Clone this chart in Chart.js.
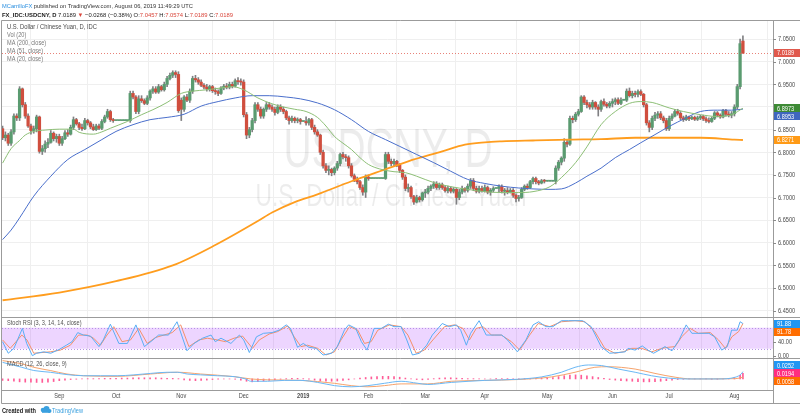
<!DOCTYPE html>
<html>
<head>
<meta charset="utf-8">
<title>USDCNY, D</title>
<script src="https://cdn.jsdelivr.net/npm/chart.js@4.4.1/dist/chart.umd.min.js"></script>
<style>
  html, body { margin: 0; padding: 0; background: #fff; }
  #chart { display: block; }
</style>
</head>
<body>
<canvas id="chart" width="800" height="419"></canvas>
<script>
// ---- data ----
// time axis: month labels and the bar index (trading day) where each one starts
const monthLabels = ["Sep", "Oct", "Nov", "Dec", "2019", "Feb", "Mar", "Apr", "May", "Jun", "Jul", "Aug"];
const monthStarts = [20, 40, 63, 85, 106, 129, 149, 170, 192, 215, 235, 258];
const priceTicks = [6.45, 6.5, 6.55, 6.6, 6.65, 6.7, 6.75, 6.8, 6.85, 6.9, 6.95, 7.0, 7.05];
const stochTicks = [0, 40, 80];

// daily candles, Aug 6 2018 .. Aug 6 2019 (one value per weekday)
const opens = [
  6.852,6.832,6.838,6.820,6.845,6.880,6.876,6.940,6.905,6.880,6.858,6.848,6.852,6.878,6.802,6.808,6.818,6.822,6.842,6.830,
  6.835,6.820,6.830,6.843,6.840,6.855,6.872,6.863,6.855,6.852,6.870,6.865,6.856,6.850,6.858,6.853,6.868,6.878,6.890,6.872,
  6.870,6.870,6.870,6.870,6.870,6.870,6.930,6.922,6.890,6.918,6.914,6.908,6.920,6.935,6.940,6.933,6.945,6.938,6.950,6.963,6.970,6.976,6.972,
  6.915,6.895,6.922,6.915,6.935,6.963,6.960,6.955,6.948,6.944,6.940,6.945,6.936,6.934,6.930,6.942,6.946,6.944,6.950,6.946,6.958,6.956,
  6.955,6.883,6.838,6.850,6.870,6.905,6.895,6.880,6.895,6.905,6.900,6.895,6.888,6.900,6.895,6.890,6.876,6.870,6.875,6.870,6.872,
  6.868,6.868,6.865,6.872,6.855,6.845,6.838,6.800,6.770,6.760,6.762,6.755,6.765,6.775,6.795,6.790,6.788,6.770,6.748,6.740,6.735,6.722,6.712,
  6.745,6.742,6.742,6.742,6.742,6.742,6.742,6.795,6.780,6.775,6.780,6.772,6.760,6.745,6.720,6.722,6.702,6.690,6.700,6.695,
  6.710,6.712,6.720,6.725,6.730,6.722,6.728,6.722,6.715,6.720,6.714,6.718,6.700,6.712,6.720,6.716,6.725,6.737,6.720,6.714,6.720,
  6.715,6.722,6.712,6.716,6.720,6.720,6.724,6.714,6.715,6.712,6.716,6.705,6.698,6.700,6.718,6.725,6.722,6.735,6.742,6.735,6.732,6.737,
  6.736,6.736,6.736,6.736,6.765,6.778,6.787,6.822,6.818,6.875,6.872,6.884,6.890,6.922,6.910,6.905,6.900,6.910,6.900,6.895,6.912,6.906,6.902,
  6.908,6.912,6.916,6.908,6.915,6.915,6.935,6.925,6.930,6.928,6.934,6.928,6.905,6.865,6.855,6.875,6.882,6.885,6.876,6.870,
  6.852,6.875,6.880,6.890,6.886,6.876,6.872,6.878,6.874,6.877,6.873,6.876,6.879,6.874,6.870,6.868,6.875,6.887,6.882,6.878,6.892,6.884,6.882,
  6.885,6.900,6.945,7.0457
];
const highs = [
  6.858,6.845,6.842,6.850,6.885,6.885,6.945,6.942,6.910,6.885,6.862,6.858,6.882,6.880,6.815,6.825,6.830,6.848,6.845,6.840,
  6.840,6.835,6.848,6.850,6.860,6.878,6.875,6.866,6.862,6.875,6.873,6.868,6.862,6.862,6.862,6.872,6.882,6.895,6.893,6.875,
  6.870,6.870,6.870,6.870,6.870,6.935,6.935,6.925,6.925,6.925,6.918,6.925,6.938,6.945,6.945,6.950,6.948,6.955,6.968,6.975,6.980,6.980,6.978,
  6.920,6.925,6.928,6.940,6.968,6.970,6.965,6.960,6.952,6.950,6.948,6.948,6.942,6.938,6.945,6.950,6.952,6.955,6.955,6.962,6.965,6.962,
  6.960,6.888,6.855,6.875,6.910,6.910,6.900,6.898,6.910,6.910,6.905,6.900,6.905,6.905,6.900,6.893,6.880,6.880,6.878,6.876,6.875,
  6.868,6.878,6.875,6.875,6.860,6.850,6.840,6.805,6.775,6.770,6.765,6.768,6.780,6.798,6.800,6.795,6.792,6.775,6.752,6.745,6.738,6.728,6.750,
  6.750,6.742,6.742,6.742,6.742,6.742,6.800,6.800,6.785,6.785,6.782,6.775,6.762,6.750,6.730,6.725,6.705,6.705,6.703,6.712,
  6.718,6.725,6.728,6.735,6.735,6.732,6.732,6.726,6.725,6.724,6.722,6.720,6.718,6.725,6.722,6.730,6.742,6.742,6.725,6.725,6.725,
  6.728,6.725,6.720,6.724,6.720,6.728,6.728,6.720,6.722,6.720,6.720,6.708,6.705,6.722,6.728,6.730,6.738,6.745,6.745,6.738,6.740,6.740,
  6.736,6.736,6.736,6.770,6.782,6.790,6.830,6.828,6.880,6.880,6.888,6.895,6.925,6.925,6.915,6.910,6.915,6.912,6.905,6.915,6.918,6.910,6.912,
  6.918,6.920,6.920,6.920,6.915,6.940,6.942,6.935,6.935,6.938,6.938,6.930,6.908,6.870,6.880,6.888,6.890,6.890,6.880,6.875,
  6.880,6.885,6.895,6.895,6.890,6.880,6.882,6.880,6.880,6.880,6.880,6.882,6.882,6.878,6.876,6.878,6.890,6.890,6.885,6.895,6.895,6.890,6.890,
  6.905,6.950,7.050,7.0574
];
const lows = [
  6.828,6.825,6.815,6.815,6.840,6.870,6.870,6.900,6.875,6.855,6.840,6.842,6.845,6.798,6.795,6.800,6.810,6.820,6.825,6.822,
  6.815,6.815,6.828,6.835,6.838,6.850,6.860,6.850,6.848,6.850,6.860,6.852,6.848,6.848,6.850,6.850,6.865,6.875,6.868,6.866,
  6.870,6.870,6.870,6.870,6.870,6.866,6.918,6.885,6.885,6.910,6.905,6.905,6.915,6.930,6.930,6.930,6.935,6.935,6.945,6.960,6.965,6.965,6.888,
  6.870,6.890,6.912,6.910,6.930,6.955,6.950,6.945,6.940,6.935,6.935,6.932,6.928,6.925,6.928,6.938,6.940,6.940,6.942,6.944,6.950,6.948,
  6.878,6.830,6.832,6.845,6.865,6.890,6.875,6.875,6.890,6.895,6.890,6.882,6.885,6.890,6.885,6.872,6.862,6.866,6.865,6.865,6.862,
  6.868,6.860,6.860,6.850,6.840,6.835,6.795,6.765,6.755,6.750,6.748,6.750,6.760,6.770,6.785,6.780,6.765,6.745,6.735,6.730,6.718,6.705,6.700,
  6.738,6.742,6.742,6.742,6.742,6.742,6.740,6.775,6.770,6.770,6.768,6.755,6.740,6.715,6.712,6.698,6.685,6.688,6.690,6.692,
  6.700,6.708,6.715,6.720,6.718,6.718,6.718,6.712,6.710,6.710,6.710,6.685,6.695,6.708,6.712,6.712,6.720,6.715,6.710,6.710,6.712,
  6.712,6.708,6.705,6.712,6.720,6.712,6.710,6.705,6.708,6.710,6.700,6.690,6.692,6.698,6.715,6.718,6.720,6.730,6.730,6.728,6.730,6.732,
  6.736,6.736,6.736,6.730,6.760,6.772,6.780,6.812,6.815,6.865,6.868,6.880,6.888,6.905,6.898,6.895,6.895,6.895,6.880,6.890,6.902,6.898,6.898,
  6.900,6.905,6.905,6.905,6.915,6.912,6.922,6.920,6.922,6.922,6.925,6.900,6.860,6.845,6.850,6.870,6.875,6.872,6.865,6.848,
  6.848,6.870,6.878,6.882,6.872,6.868,6.870,6.870,6.872,6.870,6.870,6.872,6.870,6.866,6.865,6.866,6.872,6.878,6.875,6.876,6.880,6.878,6.876,
  6.880,6.895,6.940,7.0189
];
const closes = [
  6.832,6.838,6.820,6.845,6.880,6.876,6.940,6.905,6.880,6.858,6.848,6.852,6.878,6.802,6.808,6.818,6.822,6.842,6.830,6.835,
  6.820,6.830,6.843,6.840,6.855,6.872,6.863,6.855,6.852,6.870,6.865,6.856,6.850,6.858,6.853,6.868,6.878,6.890,6.872,6.870,
  6.870,6.870,6.870,6.870,6.870,6.930,6.922,6.890,6.918,6.914,6.908,6.920,6.935,6.940,6.933,6.945,6.938,6.950,6.963,6.970,6.976,6.972,6.892,
  6.895,6.922,6.915,6.935,6.963,6.960,6.955,6.948,6.944,6.940,6.945,6.936,6.934,6.930,6.942,6.946,6.944,6.950,6.946,6.958,6.956,6.955,
  6.883,6.838,6.850,6.870,6.905,6.895,6.880,6.895,6.905,6.900,6.895,6.888,6.900,6.895,6.890,6.876,6.870,6.875,6.870,6.872,6.868,
  6.868,6.865,6.872,6.855,6.845,6.838,6.800,6.770,6.760,6.762,6.755,6.765,6.775,6.795,6.790,6.788,6.770,6.748,6.740,6.735,6.722,6.712,6.745,
  6.742,6.742,6.742,6.742,6.742,6.742,6.795,6.780,6.775,6.780,6.772,6.760,6.745,6.720,6.722,6.702,6.690,6.700,6.695,6.710,
  6.712,6.720,6.725,6.730,6.722,6.728,6.722,6.715,6.720,6.714,6.718,6.700,6.712,6.720,6.716,6.725,6.737,6.720,6.714,6.720,6.715,
  6.722,6.712,6.716,6.720,6.720,6.724,6.714,6.715,6.712,6.716,6.705,6.698,6.700,6.718,6.725,6.722,6.735,6.742,6.735,6.732,6.737,6.736,
  6.736,6.736,6.736,6.765,6.778,6.787,6.822,6.818,6.875,6.872,6.884,6.890,6.922,6.910,6.905,6.900,6.910,6.900,6.895,6.912,6.906,6.902,6.908,
  6.912,6.916,6.908,6.915,6.915,6.935,6.925,6.930,6.928,6.934,6.928,6.905,6.865,6.855,6.875,6.882,6.885,6.876,6.870,6.852,
  6.875,6.880,6.890,6.886,6.876,6.872,6.878,6.874,6.877,6.873,6.876,6.879,6.874,6.870,6.868,6.875,6.887,6.882,6.878,6.892,6.884,6.882,6.885,
  6.900,6.945,7.040,7.0189
];

// moving averages, read as [bar index, value]
const ma20 = [[0,6.776],[3,6.808],[6,6.826],[8,6.838],[11,6.846],[15,6.849],[20,6.851],[25,6.851],[27,6.844],[32,6.84],[35,6.845],[38,6.853],[44,6.868],[49,6.883],[53,6.894],[58,6.91],[63,6.93],[67,6.935],[72,6.938],[77,6.942],[81,6.945],[85,6.938],[90,6.92],[95,6.907],[99,6.9],[103,6.895],[107,6.89],[111,6.877],[114,6.858],[117,6.835],[120,6.82],[123,6.806],[126,6.788],[129,6.773],[133,6.763],[138,6.757],[142,6.755],[146,6.747],[152,6.733],[158,6.724],[164,6.718],[170,6.713],[176,6.711],[182,6.711],[187,6.713],[193,6.724],[197,6.744],[202,6.777],[206,6.812],[211,6.861],[216,6.89],[221,6.908],[225,6.912],[229,6.91],[235,6.898],[240,6.89],[246,6.883],[252,6.879],[257,6.883],[261,6.8973]];
const ma51 = [[0,6.607],[3,6.628],[6,6.655],[11,6.703],[17,6.747],[23,6.784],[29,6.806],[35,6.828],[40,6.846],[46,6.861],[52,6.872],[58,6.877],[64,6.884],[70,6.902],[76,6.912],[82,6.92],[88,6.925],[94,6.925],[100,6.922],[105,6.918],[111,6.909],[117,6.894],[123,6.872],[129,6.846],[135,6.828],[140,6.813],[146,6.795],[152,6.777],[158,6.758],[164,6.74],[170,6.731],[176,6.725],[182,6.721],[187,6.719],[193,6.718],[197,6.719],[202,6.732],[206,6.747],[211,6.765],[216,6.788],[221,6.806],[225,6.821],[230,6.839],[235,6.857],[241,6.876],[246,6.89],[252,6.893],[257,6.893],[261,6.8953]];
const ma200 = [[0,6.473],[20,6.49],[40,6.515],[60,6.55],[75,6.595],[90,6.648],[95,6.667],[103,6.69],[111,6.707],[123,6.736],[133,6.758],[143,6.78],[155,6.802],[163,6.817],[170,6.822],[176,6.824],[187,6.826],[200,6.828],[211,6.829],[223,6.832],[246,6.832],[258,6.828],[261,6.8271]];

// Stoch RSI (3, 3, 14, 14): [bar index, value]
const stochK = [[0,40],[2,7],[4,21],[7,78],[8.5,35],[10.5,0],[12,7],[14.5,11],[17,7],[20,18],[22.5,30],[24.5,40],[26.5,66],[28.5,59],[31,56],[34,26],[35.5,45],[38,90],[41,35],[44,35],[47,88],[50,26],[53,45],[55,59],[58.5,59],[61.5,97],[65,14],[67.5,35],[70.5,50],[73.5,59],[75,40],[77,50],[80.5,35],[83.5,59],[85,45],[87,9],[89.5,54],[92,64],[95,66],[97.5,73],[100,88],[101.5,78],[104,24],[106,35],[108,24],[110.5,21],[113,2],[116,7],[118,26],[120.5,73],[122,88],[124.5,78],[126.5,40],[128.5,16],[131,78],[133.5,78],[136,90],[138,83],[140.5,83],[142.5,45],[144.5,2],[147,7],[149.5,30],[151.5,59],[155,92],[157.5,83],[160,88],[161.5,73],[163.5,30],[165,64],[168,100],[170.5,59],[173.5,59],[176,59],[178,45],[181.5,11],[184.5,45],[187,88],[189,97],[191.5,83],[194,83],[197,100],[199.5,100],[204.5,100],[207.5,83],[211,26],[214,7],[217,9],[219.5,11],[220.5,21],[223,16],[225.5,28],[227.5,16],[229.5,7],[232,18],[233.5,26],[236,14],[238.5,45],[241,88],[243,64],[245.5,64],[249,64],[251,54],[253.5,16],[255.5,26],[257,73],[259,73],[260,97],[261,91.88]];
const stochD = [[0,45],[2.7,21],[6.8,59],[8.6,45],[11,7],[13.9,9],[16.8,11],[20.4,16],[23.9,30],[26.8,59],[29.8,59],[32.1,50],[34.5,30],[36.8,59],[39.2,83],[42.1,40],[45.1,45],[48,78],[51,35],[53.9,52],[56.9,59],[59.8,66],[62.8,88],[65.7,26],[69.2,45],[72.2,50],[75.7,45],[78.6,40],[81.6,50],[84.6,56],[88.1,21],[90.5,45],[94,62],[97,69],[100.5,85],[102.8,54],[105.2,26],[107.5,30],[111.1,21],[114,2],[117,11],[119.3,45],[122.3,83],[125.2,73],[127.6,35],[129.9,40],[132.3,73],[136.4,88],[140.5,83],[142.9,59],[145.8,7],[148.7,16],[151.7,45],[155.8,83],[159.3,88],[162.3,78],[164.6,45],[167,78],[169.4,83],[172.3,59],[175.8,59],[179.4,40],[182.3,16],[185.8,59],[188.8,92],[192.9,83],[197,97],[201.8,100],[205.3,97],[208.8,69],[212.3,21],[215.9,7],[218.8,11],[221.8,21],[225.3,21],[228.8,11],[232.4,21],[234.7,24],[237.1,26],[239.4,54],[242.4,78],[245.3,64],[249.5,66],[252.4,45],[254.8,21],[257.1,54],[259.5,69],[261,91.78]];

// MACD (12, 26, close, 9): [bar index, value]
const macdLine = [[0,0.057],[6.8,0.04],[11,0.029],[16.8,0.023],[22.7,0.015],[28.6,0.011],[34.5,0.011],[40.4,0.011],[46.3,0.014],[52.2,0.019],[58.1,0.023],[61.6,0.023],[65.1,0.017],[69.8,0.014],[75.7,0.011],[81.6,0.008],[85.7,0],[87.5,-0.008],[93.4,-0.008],[99.3,-0.005],[105.2,-0.005],[111.1,-0.012],[117,-0.023],[122.9,-0.027],[128.8,-0.023],[134.6,-0.015],[140.5,-0.008],[146.4,-0.015],[149.9,-0.019],[158.2,-0.012],[170,-0.005],[181.7,-0.001],[190,0.007],[197,0.023],[201.8,0.04],[206.5,0.048],[211.2,0.046],[217.1,0.034],[223,0.023],[228.8,0.011],[234.7,0.003],[240.6,0],[252.4,0],[258.3,0.006],[260.4,0.017],[261,0.0252]];
const macdSignal = [[0,0.063],[6.8,0.052],[11,0.04],[16.8,0.029],[22.7,0.017],[28.6,0.011],[40.4,0.009],[52.2,0.017],[61.6,0.023],[69.8,0.017],[81.6,0.008],[87.5,0],[93.4,-0.003],[105.2,-0.005],[117,-0.015],[122.9,-0.023],[128.8,-0.027],[134.6,-0.023],[140.5,-0.017],[149.9,-0.017],[158.2,-0.008],[170,-0.005],[181.7,-0.002],[193.5,0.007],[201.8,0.023],[208.8,0.04],[213.5,0.042],[223,0.034],[230,0.019],[237.1,0.006],[243,0],[258.3,0.001],[261,0.0058]];
const macdHist = [[0,-0.005],[2,-0.006],[4,-0.008],[6,-0.01],[8,-0.011],[10,-0.011],[12,-0.012],[14,-0.012],[16,-0.011],[18,-0.009],[20,-0.006],[22,-0.004],[24,-0.002],[26,-0.001],[28,0],[30,0.001],[32,0.001],[34,0.001],[36,0.002],[38,0.002],[40,0.002],[42,0.003],[44,0.003],[46,0.004],[48,0.004],[50,0.004],[52,0.004],[54,0.004],[56,0.003],[58,0.002],[60,0.002],[62,0.001],[64,-0.003],[66,-0.005],[68,-0.006],[70,-0.005],[72,-0.004],[74,-0.002],[76,-0.001],[78,0],[80,0],[82,-0.001],[84,-0.004],[86,-0.008],[88,-0.01],[90,-0.009],[92,-0.007],[94,-0.005],[96,-0.003],[98,-0.001],[100,0.001],[102,0.002],[104,0.002],[106,0.001],[108,-0.001],[110,-0.004],[112,-0.007],[114,-0.008],[116,-0.008],[118,-0.007],[120,-0.005],[122,-0.003],[124,0],[126,0.003],[128,0.005],[130,0.007],[132,0.008],[134,0.009],[136,0.009],[138,0.008],[140,0.006],[142,0.003],[144,0],[146,-0.002],[148,-0.003],[150,-0.002],[152,0.001],[154,0.003],[156,0.004],[158,0.004],[160,0.003],[162,0.002],[164,0.001],[166,0.001],[168,0],[170,0],[172,0],[174,0.001],[176,0.001],[178,0.001],[180,0],[182,0],[184,0.001],[186,0.002],[188,0.003],[190,0.004],[192,0.004],[194,0.005],[196,0.008],[198,0.011],[200,0.013],[202,0.014],[204,0.013],[206,0.011],[208,0.008],[210,0.005],[212,0.002],[214,-0.002],[216,-0.004],[218,-0.006],[220,-0.007],[222,-0.008],[224,-0.009],[226,-0.01],[228,-0.01],[230,-0.009],[232,-0.008],[234,-0.006],[236,-0.004],[238,-0.002],[240,-0.001],[242,0],[244,0],[246,0],[248,0],[250,-0.001],[252,-0.001],[254,0],[256,0.002],[258,0.005],[260,0.012],[261,0.0194]];

// ---- styling ----
const FONT = '"Liberation Sans", Arial, sans-serif';
const UP = "#5a9b70";
const DOWN = "#d04e3e";
const WICK = "#808083";
const GRID = "#efefef";
const FRAME = "#9b9b9b";
const AXIS_TEXT = "#4a4a4a";

const days = closes.map((c, i) => i);
const pts = (arr) => arr.map(([x, y]) => ({ x, y }));
const last = (arr) => arr[arr.length - 1][1];

// draw text squeezed horizontally so it fills a given width
function fitRuns(ctx, runs, x, y, size, width, align) {
  ctx.save();
  ctx.textBaseline = "alphabetic";
  ctx.textAlign = "left";
  let total = 0;
  for (const r of runs) {
    ctx.font = (r.bold ? "bold " : "") + size + "px " + FONT;
    total += ctx.measureText(r.text).width;
  }
  const sx = width ? width / total : 1;
  const start = align === "center" ? x - (total * sx) / 2 : x;
  ctx.translate(start, y);
  ctx.scale(sx, 1);
  let cx = 0;
  for (const r of runs) {
    ctx.font = (r.bold ? "bold " : "") + size + "px " + FONT;
    ctx.fillStyle = r.color;
    ctx.fillText(r.text, cx, 0);
    cx += ctx.measureText(r.text).width;
  }
  ctx.restore();
}

function smallText(ctx, text, x, y, color, size, bold, align) {
  ctx.save();
  ctx.font = (bold ? "bold " : "") + size + "px " + FONT;
  ctx.fillStyle = color;
  ctx.textBaseline = "middle";
  ctx.textAlign = align || "left";
  ctx.translate(x, y);
  ctx.scale(0.86, 1);
  ctx.fillText(text, 0, 0);
  ctx.restore();
}

// price-axis tags; "fixed" ones keep their spot, others are pushed aside
function placeTags(scale, tags) {
  const h = 8;
  const items = tags.map((t) => ({ ...t, y: scale.getPixelForValue(t.value) }));
  items.sort((a, b) => a.y - b.y);
  for (let k = 1; k < items.length; k++) {
    if (!items[k].fixed && items[k].y < items[k - 1].y + h) items[k].y = items[k - 1].y + h;
  }
  for (let k = items.length - 2; k >= 0; k--) {
    if (!items[k].fixed && items[k].y > items[k + 1].y - h) items[k].y = items[k + 1].y - h;
  }
  return items;
}

function drawTags(ctx, items, x0) {
  for (const t of items) {
    ctx.fillStyle = t.color;
    ctx.fillRect(x0 + 1, Math.round(t.y - 4), 26, 8);
    smallText(ctx, t.label, x0 + 4, t.y + 0.5, "#ffffff", 6.5, false);
  }
}

function drawAxisLabels(ctx, scale, values, fmt, tags, x0) {
  ctx.strokeStyle = "#8a8a8a";
  ctx.lineWidth = 1;
  for (const v of values) {
    const y = scale.getPixelForValue(v);
    if (tags.some((t) => Math.abs(t.y - y) < 8)) continue;
    ctx.beginPath();
    ctx.moveTo(x0, Math.round(y) + 0.5);
    ctx.lineTo(x0 + 3, Math.round(y) + 0.5);
    ctx.stroke();
    smallText(ctx, fmt(v), x0 + 5, y + 0.5, AXIS_TEXT, 6.5, false);
  }
}

const underlay = {
  id: "underlay",
  beforeDraw(chart) {
    const ctx = chart.ctx;
    ctx.save();
    ctx.fillStyle = "#ffffff";
    ctx.fillRect(0, 0, chart.width, chart.height);
    ctx.restore();
  },
  beforeDatasetsDraw(chart) {
    const ctx = chart.ctx;
    const area = chart.chartArea;
    const yS = chart.scales.yS;
    ctx.save();
    // watermark
    fitRuns(ctx, [{ text: "USDCNY, D", color: "rgba(0,0,0,0.075)" }], 388, 167, 56, 209, "center");
    fitRuns(ctx, [{ text: "U.S. Dollar / Chinese Yuan", color: "rgba(0,0,0,0.075)" }], 391, 206, 32, 271, "center");
    // Stoch RSI band
    const top = yS.getPixelForValue(80);
    const bot = yS.getPixelForValue(20);
    ctx.fillStyle = "rgba(153, 21, 255, 0.18)";
    ctx.fillRect(area.left, top, area.right - area.left, bot - top);
    ctx.strokeStyle = "#b792e6";
    ctx.setLineDash([1, 2]);
    for (const y of [top, bot]) {
      ctx.beginPath();
      ctx.moveTo(area.left, Math.round(y) + 0.5);
      ctx.lineTo(area.right, Math.round(y) + 0.5);
      ctx.stroke();
    }
    ctx.restore();
  },
  afterDatasetsDraw(chart) {
    const ctx = chart.ctx;
    const area = chart.chartArea;
    const y = chart.scales.y;
    const yS = chart.scales.yS;
    const yM = chart.scales.yM;
    const x = chart.scales.x;
    const lastClose = closes[closes.length - 1];
    ctx.save();

    // last price line
    const py = Math.round(y.getPixelForValue(lastClose)) + 0.5;
    ctx.strokeStyle = "rgba(224, 88, 76, 0.75)";
    ctx.setLineDash([1, 2]);
    ctx.beginPath();
    ctx.moveTo(area.left, py);
    ctx.lineTo(area.right, py);
    ctx.stroke();
    ctx.setLineDash([]);

    // frame and pane separators
    ctx.strokeStyle = FRAME;
    ctx.lineWidth = 1;
    const R = area.right + 0.5;
    const lines = [
      [1.5, area.top - 0.5, 800, area.top - 0.5],
      [1.5, area.top - 0.5, 1.5, area.bottom + 13.5],
      [R, area.top - 0.5, R, area.bottom + 13.5],
      [1.5, Math.round(yS.top) + 0.5, 800, Math.round(yS.top) + 0.5],
      [1.5, Math.round(yM.top) + 0.5, 800, Math.round(yM.top) + 0.5],
      [1.5, area.bottom + 0.5, R, area.bottom + 0.5],
      [1.5, area.bottom + 13.5, 800, area.bottom + 13.5],
    ];
    for (const [x1, y1, x2, y2] of lines) {
      ctx.beginPath();
      ctx.moveTo(x1, y1);
      ctx.lineTo(x2, y2);
      ctx.stroke();
    }

    // right-hand scales and tags
    const mainTags = placeTags(y, [
      { value: lastClose, label: lastClose.toFixed(4), color: "#e0584c", fixed: true },
      { value: last(ma20), label: last(ma20).toFixed(4), color: "#3d8a35", fixed: true },
      { value: last(ma51), label: last(ma51).toFixed(4), color: "#3f66bf" },
      { value: last(ma200), label: last(ma200).toFixed(4), color: "#ff9a16" },
    ]);
    drawAxisLabels(ctx, y, priceTicks, (v) => v.toFixed(4), mainTags, area.right);
    drawTags(ctx, mainTags, area.right);

    const stochTags = placeTags(yS, [
      { value: last(stochK), label: last(stochK).toFixed(2), color: "#2196f3", fixed: true },
      { value: last(stochD), label: last(stochD).toFixed(2), color: "#ff6d00" },
    ]);
    drawAxisLabels(ctx, yS, stochTicks, (v) => v.toFixed(2), stochTags, area.right);
    drawTags(ctx, stochTags, area.right);

    const macdTags = placeTags(yM, [
      { value: last(macdHist), label: last(macdHist).toFixed(4), color: "#ff2e80", fixed: true },
      { value: last(macdLine), label: last(macdLine).toFixed(4), color: "#2196f3" },
      { value: last(macdSignal), label: last(macdSignal).toFixed(4), color: "#ff6d00" },
    ]);
    drawTags(ctx, macdTags, area.right);

    // time axis labels
    monthStarts.forEach((d, k) => {
      smallText(ctx, monthLabels[k], x.getPixelForValue(d), area.bottom + 6.5, AXIS_TEXT, 6.5, monthLabels[k] === "2019", "center");
    });

    // pane legends
    fitRuns(ctx, [{ text: "U.S. Dollar / Chinese Yuan, D, IDC", color: "#4a4a4a" }], 7, 29, 6.5, 90);
    const legend = ["Vol (20)", "MA (200, close)", "MA (51, close)", "MA (20, close)"];
    legend.forEach((t, k) => smallText(ctx, t, 7, 35.5 + k * 8, "#7a7a7a", 6.5, false));
    smallText(ctx, "Stoch RSI (3, 3, 14, 14, close)", 7, yS.top + 6, "#555555", 6.5, false);
    smallText(ctx, "MACD (12, 26, close, 9)", 7, yM.top + 6, "#555555", 6.5, false);

    // header
    const red = "#d9453a";
    const ink = "#222222";
    fitRuns(ctx, [
      { text: "MCarrilloFX", color: "#2a8fe0" },
      { text: " published on TradingView.com, August 06, 2019 11:49:29 UTC", color: "#333333" },
    ], 2, 7.5, 6.2, 191);
    fitRuns(ctx, [
      { text: "FX_IDC:USDCNY, D ", color: ink, bold: true },
      { text: "7.0189 ", color: ink },
      { text: "\u25BC", color: red },
      { text: " \u22120.0268 (\u22120.38%) O:", color: ink },
      { text: "7.0457", color: red },
      { text: " H:", color: ink },
      { text: "7.0574", color: red },
      { text: " L:", color: ink },
      { text: "7.0189", color: red },
      { text: " C:", color: ink },
      { text: "7.0189", color: red },
    ], 2, 16.5, 6.2, 231);

    // footer
    fitRuns(ctx, [{ text: "Created with", color: "#1a1a1a", bold: true }], 2, 413, 6.5, 34);
    ctx.fillStyle = "#3aa0df";
    ctx.beginPath();
    ctx.arc(43, 410, 2.3, 0, Math.PI * 2);
    ctx.arc(46.5, 409, 3, 0, Math.PI * 2);
    ctx.arc(49.5, 411, 2, 0, Math.PI * 2);
    ctx.fill();
    ctx.fillRect(42, 410, 8, 2.8);
    fitRuns(ctx, [{ text: "TradingView", color: "#3aa0df" }], 52, 413, 7, 31);

    ctx.restore();
  },
};

const ctx = document.getElementById("chart").getContext("2d");
new Chart(ctx, {
  type: "line",
  data: {
    datasets: [
      {
        type: "line", label: "MA (20, close)", data: pts(ma20), yAxisID: "y",
        borderColor: "#8dbf76", borderWidth: 1, pointRadius: 0, cubicInterpolationMode: "monotone", order: 1,
      },
      {
        type: "line", label: "MA (51, close)", data: pts(ma51), yAxisID: "y",
        borderColor: "#4a6fcc", borderWidth: 1, pointRadius: 0, cubicInterpolationMode: "monotone", order: 1,
      },
      {
        type: "line", label: "MA (200, close)", data: pts(ma200), yAxisID: "y",
        borderColor: "#ff9d1e", borderWidth: 1.8, pointRadius: 0, cubicInterpolationMode: "monotone", order: 1,
      },
      {
        type: "bar", label: "body", yAxisID: "y",
        data: days.map((i) => ({ x: i, y: [opens[i], closes[i]] })),
        backgroundColor: days.map((i) => (closes[i] >= opens[i] ? UP : DOWN)),
        barThickness: 2.6, minBarLength: 1, grouped: false, order: 5,
      },
      {
        type: "bar", label: "wick", yAxisID: "y",
        data: days.map((i) => ({ x: i, y: [lows[i], highs[i]] })),
        backgroundColor: WICK, barThickness: 1, grouped: false, order: 6,
      },
      {
        type: "line", label: "K", data: pts(stochK), yAxisID: "yS",
        borderColor: "#5aaef5", borderWidth: 1, pointRadius: 0, tension: 0, order: 1,
      },
      {
        type: "line", label: "D", data: pts(stochD), yAxisID: "yS",
        borderColor: "#f5906a", borderWidth: 1, pointRadius: 0, tension: 0, order: 2,
      },
      {
        type: "bar", label: "Histogram", data: pts(macdHist), yAxisID: "yM",
        backgroundColor: "#ff5c97", barThickness: 1, grouped: false, order: 3,
      },
      {
        type: "line", label: "MACD", data: pts(macdLine), yAxisID: "yM",
        borderColor: "#6bb8f5", borderWidth: 1, pointRadius: 0, cubicInterpolationMode: "monotone", order: 1,
      },
      {
        type: "line", label: "Signal", data: pts(macdSignal), yAxisID: "yM",
        borderColor: "#f6a36c", borderWidth: 1, pointRadius: 0, cubicInterpolationMode: "monotone", order: 2,
      },
    ],
  },
  options: {
    responsive: false,
    devicePixelRatio: 1,
    animation: false,
    events: [],
    layout: { padding: { left: 2, right: 0, top: 21, bottom: 16 } },
    plugins: { legend: { display: false }, tooltip: { enabled: false } },
    scales: {
      x: {
        type: "linear", min: -0.2, max: 271.6, offset: false,
        afterBuildTicks: (s) => { s.ticks = monthStarts.map((v) => ({ value: v })); },
        afterFit: (s) => { s.height = 13; },
        ticks: { display: false },
        grid: { color: GRID, drawTicks: false },
        border: { display: false },
      },
      y: {
        type: "linear", position: "right", stack: "panes", stackWeight: 296,
        min: 6.436, max: 7.09,
        afterBuildTicks: (s) => { s.ticks = priceTicks.map((v) => ({ value: v })); },
        afterFit: (s) => { s.width = 27; },
        ticks: { display: false },
        grid: { color: GRID, drawTicks: false },
        border: { display: false },
      },
      yS: {
        type: "linear", position: "right", stack: "panes", stackWeight: 41,
        min: -6.6, max: 110.6,
        afterFit: (s) => { s.width = 27; },
        ticks: { display: false },
        grid: { display: false },
        border: { display: false },
      },
      yM: {
        type: "linear", position: "right", stack: "panes", stackWeight: 32,
        min: -0.038, max: 0.072,
        afterFit: (s) => { s.width = 27; },
        ticks: { display: false },
        grid: { display: false },
        border: { display: false },
      },
    },
  },
  plugins: [underlay],
});
</script>
</body>
</html>
